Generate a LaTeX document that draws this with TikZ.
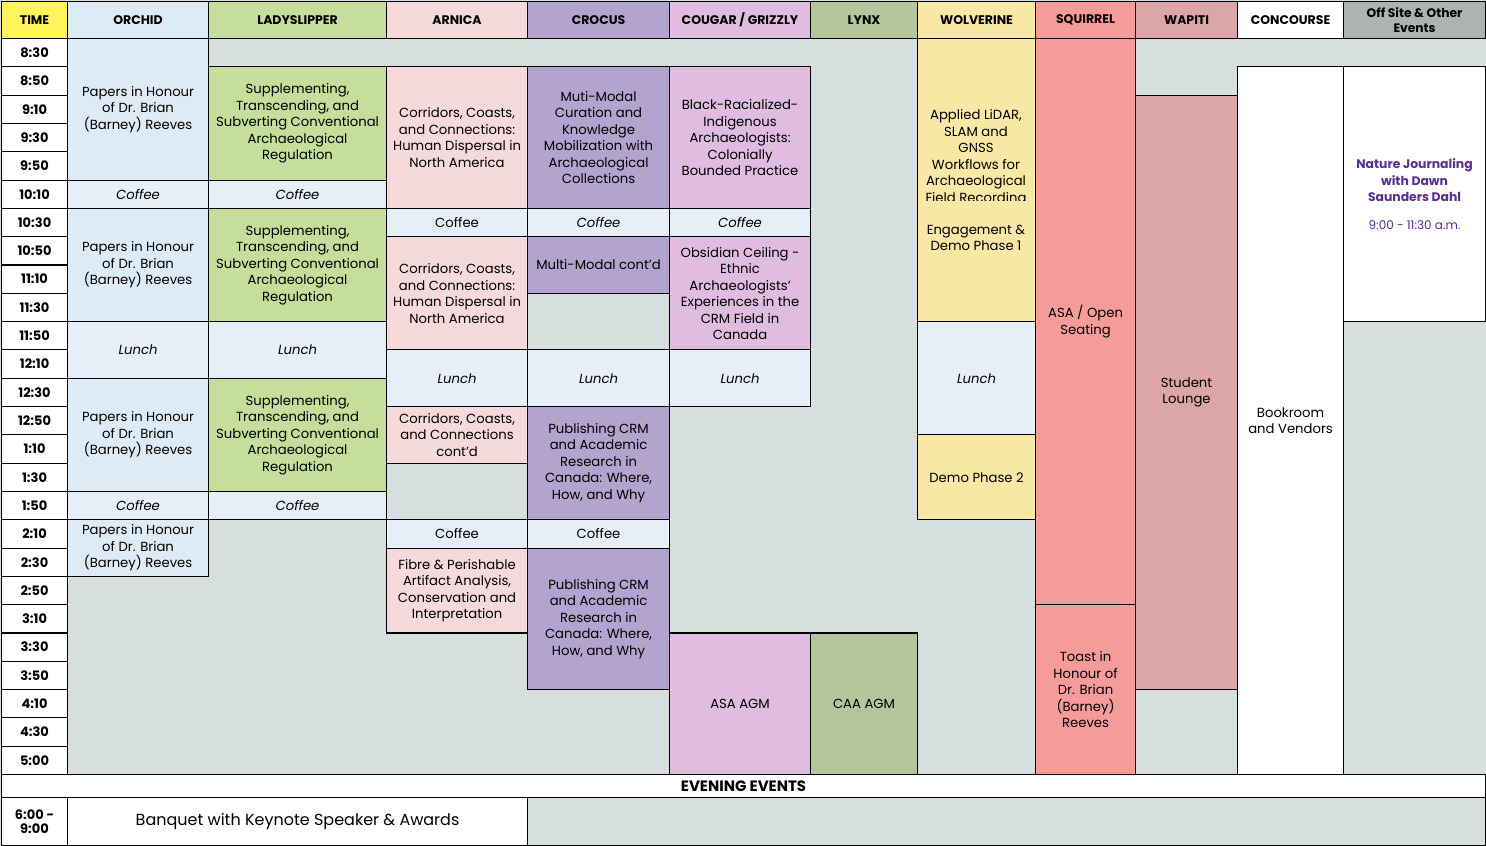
\documentclass[tikz,border=0pt]{standalone}
\usepackage{fontspec}
\setmainfont{Poppins}
\definecolor{bggrey}{HTML}{D7DFDE}
\definecolor{timey}{HTML}{FFF45B}
\definecolor{orchidc}{HTML}{DDEBF7}
\definecolor{brkc}{HTML}{E6EEF7}
\definecolor{ladyc}{HTML}{C5DE9B}
\definecolor{arnicac}{HTML}{F5D9DB}
\definecolor{crocusc}{HTML}{B3A3CF}
\definecolor{cougarc}{HTML}{E0BDDE}
\definecolor{lynxc}{HTML}{B5C69D}
\definecolor{wolvc}{HTML}{F9E8A5}
\definecolor{squirc}{HTML}{F59C9B}
\definecolor{wapitic}{HTML}{DCA6A6}
\definecolor{offc}{HTML}{AEB2B1}
\definecolor{journalc}{HTML}{5A2D8E}

\tikzset{
  cellbox/.style={draw,line width=1.1pt,inner sep=0pt,align=center,
    font=\fontsize{13.2}{16.5}\selectfont},
  headbox/.style={cellbox,font=\fontsize{12.5}{14}\selectfont\bfseries},
  timebox/.style={cellbox,fill=white,font=\fontsize{13}{14.5}\selectfont\bfseries},
  brk/.style={fill=brkc},
  brkit/.style={fill=brkc,font=\fontsize{13.2}{16.5}\selectfont\itshape},
}
% box from pixel values, and box from time slots
\newcommand\pcell[7][]{\node[cellbox,#1,anchor=north west,
  minimum width={((#4)-(#3))*1pt},minimum height={((#6)-(#5))*1pt}]
  (#2) at ({#3},{#5}) {#7};}
\newcommand\cell[7][]{\pcell[#1]{#2}{#3}{#4}{38+28.3077*(#5)}{38+28.3077*(#6)}{#7}}

\begin{document}
\begin{tikzpicture}[x=1pt,y=-1pt]
\useasboundingbox (0,0) rectangle (1486,846);
\fill[bggrey] (0,0) rectangle (1486,846);

% headers
\pcell[headbox,fill=timey]{hTime}{1}{67}{1}{38}{TIME}
\pcell[headbox,fill=orchidc]{hOrchid}{67}{208}{1}{38}{ORCHID}
\pcell[headbox,fill=ladyc]{hLady}{208}{386}{1}{38}{LADYSLIPPER}
\pcell[headbox,fill=arnicac]{hArnica}{386}{527}{1}{38}{ARNICA}
\pcell[headbox,fill=crocusc]{hCrocus}{527}{669}{1}{38}{CROCUS}
\pcell[headbox,fill=cougarc]{hCougar}{669}{810}{1}{38}{COUGAR / GRIZZLY}
\pcell[headbox,fill=lynxc]{hLynx}{810}{917}{1}{38}{LYNX}
\pcell[headbox,fill=wolvc]{hWolv}{917}{1035}{1}{38}{WOLVERINE}
\pcell[headbox,fill=squirc]{hSquir}{1035}{1135}{1}{38}{SQUIRREL}
\pcell[headbox,fill=wapitic]{hWapiti}{1135}{1237}{1}{38}{WAPITI}
\pcell[headbox,fill=white]{hConc}{1237}{1343}{1}{38}{CONCOURSE}
\pcell[headbox,fill=offc,font=\fontsize{12.3}{15}\selectfont\bfseries]{hOff}{1343}{1485}{1}{38}{Off Site \& Other\\Events}

% times
\foreach \t [count=\k from 0] in {8:30,8:50,9:10,9:30,9:50,10:10,10:30,10:50,11:10,11:30,11:50,12:10,12:30,12:50,1:10,1:30,1:50,2:10,2:30,2:50,3:10,3:30,3:50,4:10,4:30,5:00}
  \cell[timebox]{t\k}{1}{67}{\k}{\k+1}{\t};

% orchid
\cell[fill=orchidc]{or1}{67}{208}{0}{5}{Papers in Honour\\of Dr. Brian\\(Barney) Reeves}
\cell[brkit]{or2}{67}{208}{5}{6}{Coffee}
\cell[fill=orchidc]{or3}{67}{208}{6}{10}{Papers in Honour\\of Dr. Brian\\(Barney) Reeves}
\cell[brkit]{or4}{67}{208}{10}{12}{Lunch}
\cell[fill=orchidc]{or5}{67}{208}{12}{16}{Papers in Honour\\of Dr. Brian\\(Barney) Reeves}
\cell[brkit]{or6}{67}{208}{16}{17}{Coffee}
\cell[fill=orchidc]{or7}{67}{208}{17}{19}{Papers in Honour\\of Dr. Brian\\(Barney) Reeves}

% ladyslipper
\cell[fill=ladyc]{la1}{208}{386}{1}{5}{Supplementing,\\Transcending, and\\Subverting Conventional\\Archaeological\\Regulation}
\cell[brkit]{la2}{208}{386}{5}{6}{Coffee}
\cell[fill=ladyc]{la3}{208}{386}{6}{10}{Supplementing,\\Transcending, and\\Subverting Conventional\\Archaeological\\Regulation}
\cell[brkit]{la4}{208}{386}{10}{12}{Lunch}
\cell[fill=ladyc]{la5}{208}{386}{12}{16}{Supplementing,\\Transcending, and\\Subverting Conventional\\Archaeological\\Regulation}
\cell[brkit]{la6}{208}{386}{16}{17}{Coffee}

% arnica
\cell[fill=arnicac]{ar1}{386}{527}{1}{6}{Corridors, Coasts,\\and Connections:\\Human Dispersal in\\North America}
\cell[brk]{ar2}{386}{527}{6}{7}{Coffee}
\cell[fill=arnicac]{ar3}{386}{527}{7}{11}{Corridors, Coasts,\\and Connections:\\Human Dispersal in\\North America}
\cell[brkit]{ar4}{386}{527}{11}{13}{Lunch}
\cell[fill=arnicac]{ar5}{386}{527}{13}{15}{Corridors, Coasts,\\and Connections\\cont'd}
\cell[brk]{ar6}{386}{527}{17}{18}{Coffee}
\cell[fill=arnicac]{ar7}{386}{527}{18}{21}{Fibre \& Perishable\\Artifact Analysis,\\Conservation and\\Interpretation}

% crocus
\cell[fill=crocusc]{cr1}{527}{669}{1}{6}{Muti-Modal\\Curation and\\Knowledge\\Mobilization with\\Archaeological\\Collections}
\cell[brkit]{cr2}{527}{669}{6}{7}{Coffee}
\cell[fill=crocusc]{cr3}{527}{669}{7}{9}{Multi-Modal cont'd}
\cell[brkit]{cr4}{527}{669}{11}{13}{Lunch}
\cell[fill=crocusc]{cr5}{527}{669}{13}{17}{Publishing CRM\\and Academic\\Research in\\Canada: Where,\\How, and Why}
\cell[brk]{cr6}{527}{669}{17}{18}{Coffee}
\cell[fill=crocusc]{cr7}{527}{669}{18}{23}{Publishing CRM\\and Academic\\Research in\\Canada: Where,\\How, and Why}

% cougar / grizzly
\cell[fill=cougarc]{co1}{669}{810}{1}{6}{Black-Racialized-\\Indigenous\\Archaeologists:\\Colonially\\Bounded Practice}
\cell[brkit]{co2}{669}{810}{6}{7}{Coffee}
\cell[fill=cougarc]{co3}{669}{810}{7}{11}{Obsidian Ceiling -\\Ethnic\\Archaeologists'\\Experiences in the\\CRM Field in\\Canada}
\cell[brkit]{co4}{669}{810}{11}{13}{Lunch}
\cell[fill=cougarc]{co5}{669}{810}{21}{26}{ASA AGM}

% lynx
\cell[fill=lynxc]{ly1}{810}{917}{21}{26}{CAA AGM}

% wolverine
\cell[fill=wolvc]{wo1}{917}{1035}{0}{10}{}
\begin{scope}
  \clip (917,38) rectangle (1035,200);
  \node[align=center,font=\fontsize{13.2}{16.5}\selectfont] (wo1a) at (976,158) {Applied LiDAR,\\SLAM and\\GNSS\\Workflows for\\Archaeological\\Field Recording};
\end{scope}
\node[align=center,font=\fontsize{13.2}{16.5}\selectfont] (wo1b) at (976,238) {Engagement \&\\Demo Phase 1};
\cell[brkit]{wo2}{917}{1035}{10}{14}{Lunch}
\cell[fill=wolvc]{wo3}{917}{1035}{14}{17}{Demo Phase 2}

% squirrel
\cell[fill=squirc]{sq1}{1035}{1135}{0}{20}{ASA / Open\\Seating}
\cell[fill=squirc]{sq2}{1035}{1135}{20}{26}{Toast in\\Honour of\\Dr. Brian\\(Barney)\\Reeves}

% wapiti
\cell[fill=wapitic]{wa1}{1135}{1237}{2}{23}{Student\\Lounge}

% concourse
\cell[fill=white]{cc1}{1237}{1343}{1}{26}{Bookroom\\and Vendors}

% off site
\cell[fill=white,font=\fontsize{12.4}{16.5}\selectfont]{of1}{1343}{1485}{1}{10}{\textcolor{journalc}{\bfseries Nature Journaling}\\\textcolor{journalc}{\bfseries with Dawn}\\\textcolor{journalc}{\bfseries Saunders Dahl}\\[11pt]\textcolor{journalc}{\fontsize{12}{14}\selectfont 9:00 - 11:30 a.m.}}

% evening
\pcell[fill=white,font=\fontsize{15}{16}\selectfont\bfseries]{eve}{1}{1485}{774}{797}{EVENING EVENTS}
\pcell[timebox]{tEve}{1}{67}{797}{845}{6:00 -\\9:00}
\pcell[fill=white,font=\fontsize{16}{18}\selectfont]{banq}{67}{527}{797}{845}{Banquet with Keynote Speaker \& Awards}
\pcell[fill=bggrey]{eveRest}{527}{1485}{797}{845}{}
\end{tikzpicture}
\end{document}
